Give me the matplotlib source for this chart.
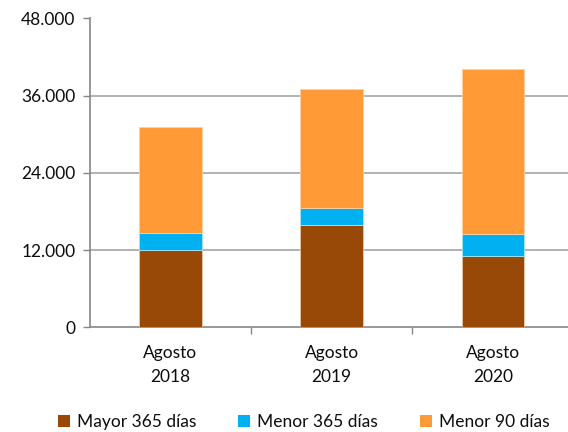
import matplotlib.pyplot as plt
from matplotlib.patches import Patch

categories = ['Agosto\n2018', 'Agosto\n2019', 'Agosto\n2020']
mayor_365 = [12050, 15950, 11100]
menor_365 = [2650, 2600, 3350]
menor_90 = [16350, 18450, 25700]
series_names = ['Mayor 365 días', 'Menor 365 días', 'Menor 90 días']
y_ticks = [0, 12000, 24000, 36000, 48000]

colors = ['#984807', '#00B0F0', '#FF9A36']
grid_col = '#A6A6A6'
txt_col = '#0d0d0d'

plt.rcParams['font.family'] = ['Lato', 'DejaVu Sans']

fig = plt.figure(figsize=(5.68, 4.32), dpi=100)
ax = fig.add_axes([89.5 / 568, 1 - 327.3 / 432, 1 - 89.5 / 568, (327.3 - 18.3) / 432])

x = list(range(len(categories)))
bottom2 = [a + b for a, b in zip(mayor_365, menor_365)]
w = 0.39
ax.bar(x, mayor_365, w, color=colors[0], edgecolor='#E8C8A8', linewidth=0.6, zorder=3)
ax.bar(x, menor_365, w, bottom=mayor_365, color=colors[1], edgecolor='#A8E4F8', linewidth=0.6, zorder=3)
ax.bar(x, menor_90, w, bottom=bottom2, color=colors[2], edgecolor='#FFD0A0', linewidth=0.6, zorder=3)

ax.set_ylim(0, 48000)
ax.set_xlim(-0.5, -0.5 + (568 - 89.5) / 161.4)
for t in y_ticks[1:-1]:
    ax.axhline(t, color=grid_col, linewidth=1.2, zorder=1)

ax.set_yticks(y_ticks)
ax.set_yticklabels([f'{t:,}'.replace(',', '.') for t in y_ticks], fontsize=12.5, color=txt_col)
ax.tick_params(axis='y', length=5, width=1, color='#868686', pad=5)

# category separators as x ticks, labels as minor ticks
ax.set_xticks([0.5, 1.5])
ax.set_xticklabels([])
ax.tick_params(axis='x', which='major', length=5, width=1, color='#868686')
ax.set_xticks(x, minor=True)
ax.set_xticklabels(categories, minor=True, fontsize=12.5, color=txt_col, linespacing=1.6)
ax.tick_params(axis='x', which='minor', length=0, pad=13)

for s in ['top', 'right']:
    ax.spines[s].set_visible(False)
ax.spines['left'].set_color('#868686')
ax.spines['bottom'].set_color('#868686')
ax.spines['left'].set_linewidth(1.2)
ax.spines['bottom'].set_linewidth(1.2)

handles = [Patch(facecolor=c, edgecolor='none') for c in colors]
fig.legend(handles, series_names, loc='center', bbox_to_anchor=(0.535, 0.022), ncol=3,
           frameon=False, fontsize=12.5, handlelength=0.7, handleheight=0.7,
           handletextpad=0.4, columnspacing=2.4, labelcolor=txt_col)

fig.savefig('out.png', dpi=100)
